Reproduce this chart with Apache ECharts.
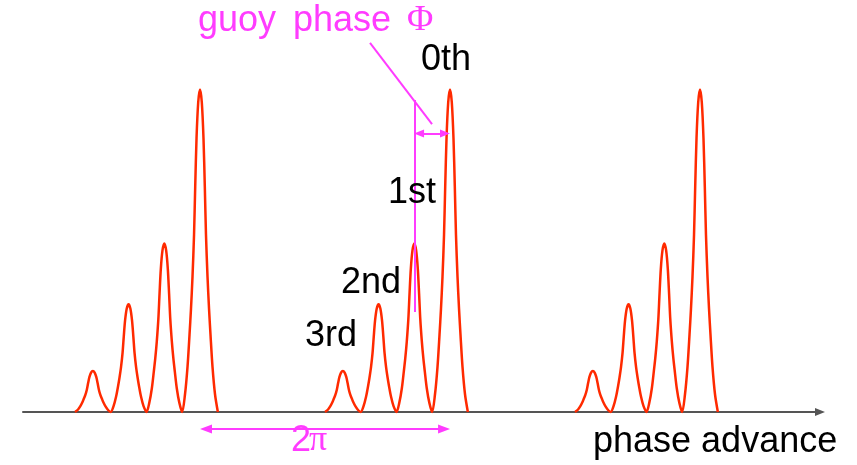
<!DOCTYPE html>
<html>
<head>
<meta charset="utf-8">
<script src="https://cdn.jsdelivr.net/npm/echarts@6/dist/echarts.min.js"></script>
<style>
html,body{margin:0;padding:0;background:#fff;}
#chart{width:857px;height:465px;}
</style>
</head>
<body>
<div id="chart"></div>
<script>
// Phase (degrees) of each sample, relative to the 0th-order peak of one group
const phaseOffsets = [
  -180.0, -175.9, -172.3, -169.4, -167.3, -165.1, -162.9, -161.2, -159.3, -156.9, -154.3,
  -151.7, -149.3, -147.4, -145.7, -143.5, -141.3, -139.2, -136.3, -132.7, -128.6,
  -124.5, -120.9, -118.0, -115.9, -113.7, -111.5, -109.8, -107.9, -105.5, -102.9,
  -100.3, -97.9, -96.0, -94.3, -92.1, -89.9, -87.8, -84.9, -81.3, -77.1,
  -73.0, -69.4, -66.5, -64.4, -62.2, -60.0, -58.3, -56.4, -54.0, -51.4,
  -48.8, -46.4, -44.5, -42.8, -40.6, -38.4, -36.3, -33.4, -29.8, -25.7,
  -21.6, -18.0, -15.1, -13.0, -10.8, -8.6, -6.9, -5.0, -2.6, 0.0,
  2.6, 5.0, 6.9, 8.6, 10.8, 13.0, 15.1, 18.0, 21.6, 25.7
];
// Intensity (0th-order peak = 1)
const intensity = [
  0, 0.007, 0.018, 0.030, 0.041, 0.053, 0.070, 0.089, 0.108, 0.122, 0.127,
  0.122, 0.108, 0.089, 0.070, 0.053, 0.041, 0.030, 0.018, 0.007, 0,
  0.018, 0.047, 0.080, 0.107, 0.140, 0.184, 0.234, 0.284, 0.321, 0.334,
  0.321, 0.284, 0.234, 0.184, 0.140, 0.107, 0.080, 0.047, 0.018, 0,
  0.029, 0.073, 0.126, 0.167, 0.220, 0.288, 0.366, 0.445, 0.502, 0.523,
  0.502, 0.445, 0.366, 0.288, 0.220, 0.167, 0.126, 0.073, 0.029, 0,
  0.055, 0.14, 0.24, 0.32, 0.42, 0.55, 0.70, 0.85, 0.96, 1.0,
  0.96, 0.85, 0.70, 0.55, 0.42, 0.32, 0.24, 0.14, 0.055, 0
];
// Phase (degrees) of the 0th-order peak of each group (2π apart)
const groupCenters = [360, 720, 1080];

// Annotation positions (data units: degrees, intensity)
const guoyLine = [[668.6, 0.968], [668.6, 0.310]];
const guoyLeader = [[604.8, 1.145], [694.1, 0.893]];
const guoyArrow = [[675.4, 0.864], [712.8, 0.864]];
const periodArrow = [[368.6, -0.053], [711.4, -0.053]];

const SANS = '36px "Liberation Sans", Arial, sans-serif';
const SERIF = '36px "Liberation Serif", "DejaVu Serif", serif';

const texts = [
  { text: 'guoy', x: 198, y: 21, color: '#ff3cff', font: SANS },
  { text: 'phase', x: 293, y: 21, color: '#ff3cff', font: SANS },
  { text: '\u03A6', x: 407, y: 21, color: '#ff3cff', font: SERIF },
  { text: '0th', x: 421, y: 60, color: '#000', font: SANS },
  { text: '1st', x: 388, y: 193, color: '#000', font: SANS },
  { text: '2nd', x: 341, y: 283, color: '#000', font: SANS },
  { text: '3rd', x: 305, y: 336, color: '#000', font: SANS },
  { text: '2', x: 291, y: 441, color: '#ff3cff', font: SANS },
  { text: '\u03C0', x: 309, y: 441, color: '#ff3cff', font: SERIF },
  { text: 'phase advance', x: 593, y: 442, color: '#000', font: SANS }
];

const RED = '#ff2a00';
const MAG = '#ff3cff';

const chart = echarts.init(document.getElementById('chart'), null, { renderer: 'canvas' });

const series = groupCenters.map(function (c, gi) {
  const s = {
    type: 'line',
    data: phaseOffsets.map(function (p, k) { return [c + p, intensity[k]]; }),
    showSymbol: false,
    symbol: 'none',
    smooth: 0.3,
    clip: false,
    silent: true,
    animation: false,
    lineStyle: { color: RED, width: 2.5 },
    z: 2
  };
  if (gi === 1) {
    s.markLine = {
      silent: true,
      animation: false,
      symbol: ['none', 'none'],
      label: { show: false },
      lineStyle: { color: MAG, width: 2, type: 'solid' },
      emphasis: { disabled: true },
      z: 5,
      data: [
        [{ coord: guoyLine[0] }, { coord: guoyLine[1] }],
        [{ coord: guoyLeader[0] }, { coord: guoyLeader[1] }],
        [{ coord: guoyArrow[0], symbol: 'triangle', symbolSize: [8, 10] },
         { coord: guoyArrow[1], symbol: 'triangle', symbolSize: [8, 10] }],
        [{ coord: periodArrow[0], symbol: 'triangle', symbolSize: [9, 12] },
         { coord: periodArrow[1], symbol: 'triangle', symbolSize: [9, 12] }]
      ]
    };
  }
  return s;
});

const graphics = texts.map(function (t) {
  return {
    type: 'text',
    x: t.x,
    y: t.y,
    silent: true,
    z: 10,
    style: {
      text: t.text,
      fill: t.color,
      font: t.font,
      textAlign: 'left',
      textVerticalAlign: 'middle',
      align: 'left',
      verticalAlign: 'middle'
    }
  };
});

chart.setOption({
  animation: false,
  backgroundColor: '#fff',
  grid: { left: 23, right: 37, top: 0, bottom: 0, containLabel: false },
  xAxis: {
    type: 'value',
    min: 105.1,
    max: 1252.8,
    axisLine: {
      show: true,
      onZero: true,
      symbol: ['none', 'triangle'],
      symbolSize: [8, 10],
      lineStyle: { color: '#555', width: 2 }
    },
    axisTick: { show: false },
    axisLabel: { show: false },
    splitLine: { show: false }
  },
  yAxis: {
    type: 'value',
    min: -0.1644,
    max: 1.278,
    show: false,
    splitLine: { show: false }
  },
  series: series,
  graphic: graphics
});
</script>
</body>
</html>
